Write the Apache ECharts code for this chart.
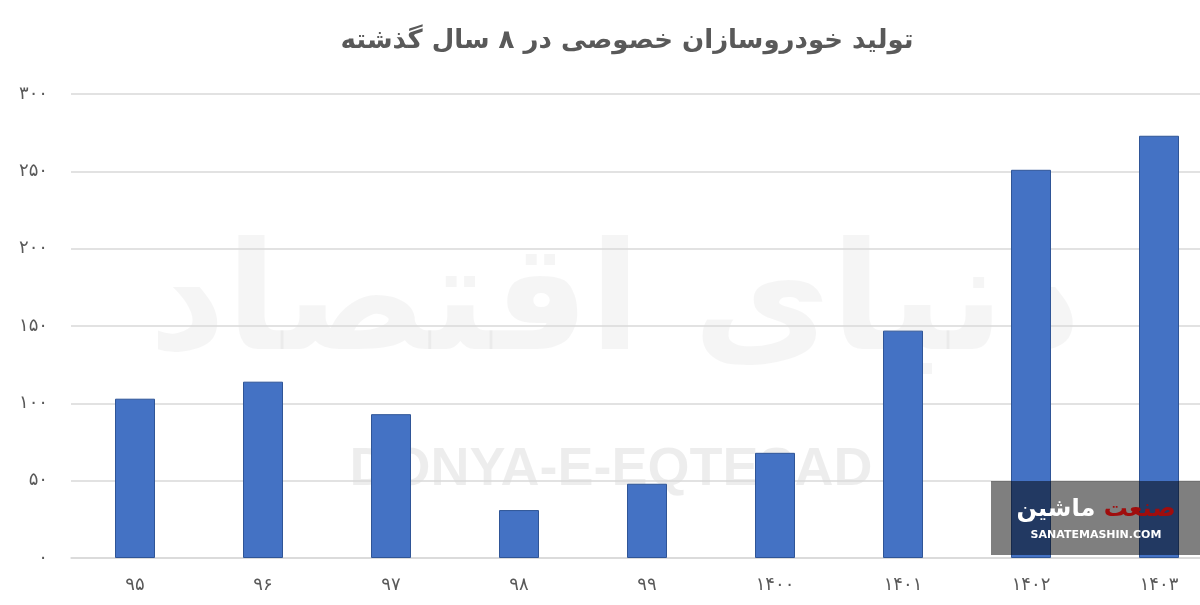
<!DOCTYPE html>
<html>
<head>
<meta charset="utf-8">
<script src="https://cdn.jsdelivr.net/npm/echarts@6/dist/echarts.min.js"></script>
<style>html,body{margin:0;padding:0;background:#fff}#c{width:1200px;height:605px}</style>
</head>
<body>
<div id="c"></div>
<script>
const titleText = 'تولید خودروسازان خصوصی در ۸ سال گذشته';
const categories = ['۹۵', '۹۶', '۹۷', '۹۸', '۹۹', '۱۴۰۰', '۱۴۰۱', '۱۴۰۲', '۱۴۰۳'];
const values = [103, 114, 93, 31, 48, 68, 147, 251, 273];
const yTickValues = [0, 50, 100, 150, 200, 250, 300];
const yTickLabels = ['۰', '۵۰', '۱۰۰', '۱۵۰', '۲۰۰', '۲۵۰', '۳۰۰'];

const chart = echarts.init(document.getElementById('c'), null, {renderer: 'canvas'});
const FONT = '"DejaVu Sans", "Noto Sans", sans-serif';
chart.setOption({
  animation: false,
  backgroundColor: '#ffffff',
  title: {
    text: titleText,
    left: 622, top: 23, textAlign: 'center',
    textStyle: {fontFamily: FONT, fontSize: 26, fontWeight: 'bold', color: '#595959'}
  },
  grid: {left: 71, width: 1152, top: 94, bottom: 47, containLabel: false, outerBoundsMode: 'none'},
  xAxis: {
    type: 'category',
    data: categories,
    axisLine: {show: true, lineStyle: {color: '#d9d9d9', width: 1.5}},
    axisTick: {show: false},
    axisLabel: {fontFamily: FONT, fontSize: 18, color: '#595959', margin: 18}
  },
  yAxis: {
    type: 'value', min: 0, max: 300, interval: 50,
    axisLine: {show: false}, axisTick: {show: false},
    splitLine: {lineStyle: {color: '#d9d9d9', width: 1.5}},
    axisLabel: {
      fontFamily: FONT, fontSize: 18, color: '#595959', margin: 23,
      formatter: v => yTickLabels[yTickValues.indexOf(v)]
    }
  },
  graphic: [
    {type: 'text', z: -10, silent: true,
      style: {text: 'دنیای اقتصاد', x: 615, y: 310, textAlign: 'center', textVerticalAlign: 'middle',
        font: 'bold 150px "DejaVu Sans", sans-serif', fill: 'rgba(0,0,0,0.04)'}},
    {type: 'text', z: -10, silent: true,
      style: {text: 'DONYA-E-EQTESAD', x: 611, y: 470, textAlign: 'center', textVerticalAlign: 'middle',
        font: 'bold 54px "Liberation Sans", Arial, sans-serif', fill: 'rgba(0,0,0,0.07)'}},
    {type: 'rect', z: 100, silent: true,
      shape: {x: 991, y: 481, width: 209, height: 74},
      style: {fill: 'rgba(0,0,0,0.5)'}},
    {type: 'text', z: 101, silent: true,
      style: {text: '{w|ماشین} {r|صنعت}', x: 1096, y: 510, textAlign: 'center', textVerticalAlign: 'middle',
        rich: {r: {fontFamily: FONT, fontSize: 24, fontWeight: 'bold', fill: '#a00d0d'},
               w: {fontFamily: FONT, fontSize: 24, fontWeight: 'bold', fill: '#ffffff'}},
        fontFamily: FONT, fontSize: 24, fontWeight: 'bold', fill: '#ffffff'}},
    {type: 'text', z: 101, silent: true,
      style: {text: 'SANATEMASHIN.COM', x: 1096, y: 535, textAlign: 'center', textVerticalAlign: 'middle',
        font: 'bold 11px "DejaVu Sans", sans-serif', fill: '#ffffff'}}
  ],
  series: [{
    type: 'bar',
    data: values,
    barWidth: 40,
    itemStyle: {color: '#4472c4', borderColor: '#2f5597', borderWidth: 1}
  }]
});
</script>
</body>
</html>
